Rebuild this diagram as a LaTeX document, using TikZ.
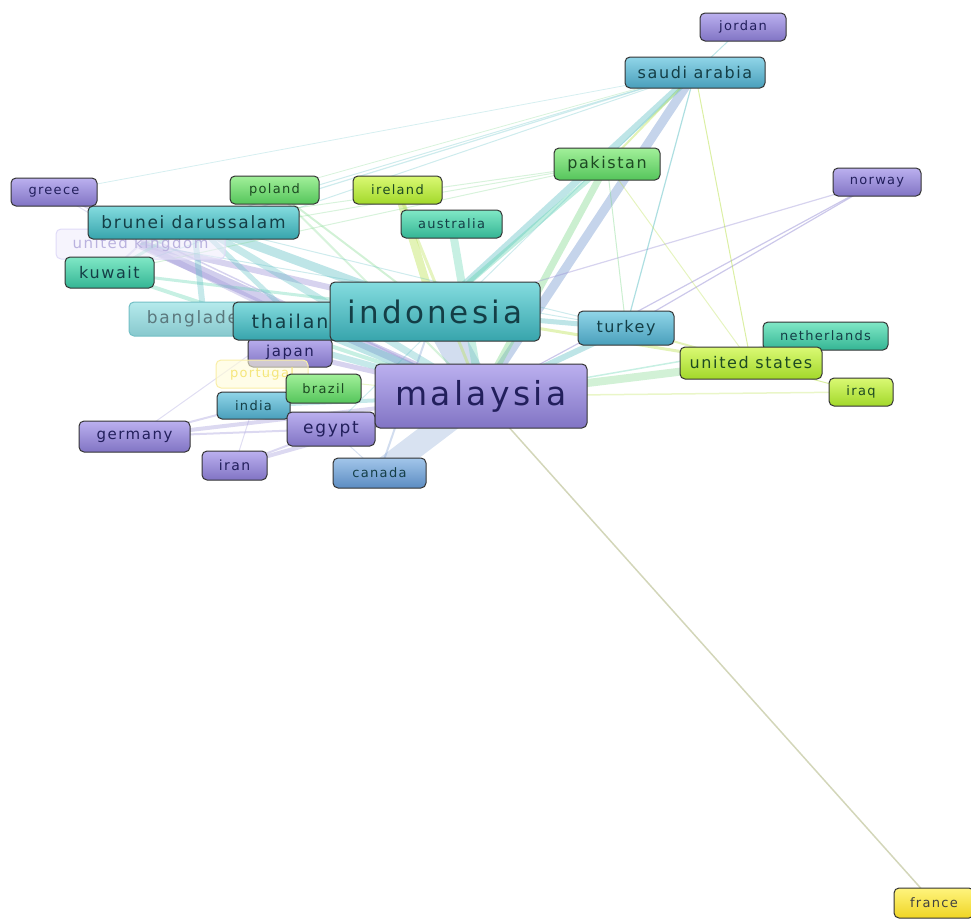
\documentclass[tikz,border=0pt]{standalone}
\usepackage{fontspec}
\setmainfont[LetterSpace=10]{DejaVu Sans}
\usetikzlibrary{backgrounds}

\newcommand{\cfs}[1]{\fontsize{#1}{#1}\selectfont}

% cluster colours (top / bottom / text)
\definecolor{purpT}{HTML}{BBB0EF}
\definecolor{purpB}{HTML}{8174C4}
\definecolor{purpTx}{HTML}{221F5C}
\definecolor{tealT}{HTML}{84DCDF}
\definecolor{tealB}{HTML}{37A4AC}
\definecolor{tealTx}{HTML}{143E46}
\definecolor{skyT}{HTML}{90D5E8}
\definecolor{skyB}{HTML}{499FBB}
\definecolor{tgrnT}{HTML}{80E8C6}
\definecolor{tgrnB}{HTML}{34B594}
\definecolor{grnT}{HTML}{A2F09A}
\definecolor{grnB}{HTML}{55C55B}
\definecolor{limeT}{HTML}{DAF974}
\definecolor{limeB}{HTML}{A2D82A}
\definecolor{bluT}{HTML}{A2C6EA}
\definecolor{bluB}{HTML}{5C8CC2}
\definecolor{yelT}{HTML}{FFF47E}
\definecolor{yelB}{HTML}{EFD524}
\definecolor{greenTx}{HTML}{1D4A22}
% link colours
\definecolor{ePurp}{HTML}{9A92D6}
\definecolor{eTeal}{HTML}{5DBFC4}
\definecolor{eBlue}{HTML}{7F9FD2}
\definecolor{eGrn}{HTML}{7DD88A}
\definecolor{eLime}{HTML}{B8E04A}
\definecolor{eTgrn}{HTML}{5FD3B0}
\definecolor{eGray}{HTML}{C8CCA8}

\begin{document}
\begin{tikzpicture}[x=1pt, y=-1pt,
    country/.style={rounded corners=5pt, draw=black!80, line width=1pt, inner sep=0pt},
    purp/.style={country, top color=purpT, bottom color=purpB, text=purpTx},
    teal/.style={country, top color=tealT, bottom color=tealB, text=tealTx},
    sky/.style={country, top color=skyT, bottom color=skyB, text=tealTx},
    tgrn/.style={country, top color=tgrnT, bottom color=tgrnB, text=tealTx},
    grn/.style={country, top color=grnT, bottom color=grnB, text=greenTx},
    lime/.style={country, top color=limeT, bottom color=limeB, text=greenTx},
    blu/.style={country, top color=bluT, bottom color=bluB, text=tealTx},
    yel/.style={country, top color=yelT, bottom color=yelB, text=black!75},
    box/.style 2 args={minimum width=#1pt, minimum height=#2pt},
    link/.style={line cap=butt}
]
\useasboundingbox (0,0) rectangle (971,918);

% outer countries
\node[purp, box={86}{28}, font=\cfs{13}] (jordan) at (743,27) {jordan};
\node[sky, box={140}{31}, font=\cfs{16}] (saudi) at (695,72.5) {saudi arabia};
\node[grn, box={106}{32}, font=\cfs{16}] (pakistan) at (607,164) {pakistan};
\node[purp, box={88}{28}, font=\cfs{13}] (norway) at (877,182) {norway};
\node[purp, box={86}{28}, font=\cfs{13}] (greece) at (54,192) {greece};
\node[grn, box={89}{28}, font=\cfs{13}] (poland) at (274.5,190) {poland};
\node[lime, box={89}{28}, font=\cfs{13}] (ireland) at (397.5,190) {ireland};
\node[tgrn, box={101}{28}, font=\cfs{13}] (australia) at (451.5,224) {australia};

% left cluster
\node[country, box={169}{30}, font=\cfs{15}, draw=purpT!45, fill=purpT!25, fill opacity=0.55,
    text opacity=1, text=purpB!55] (uk) at (140.5,244) {united kingdom};
\node[teal, box={211}{33}, font=\cfs{17}] (brunei) at (193.5,222.5) {brunei darussalam};
\node[tgrn, box={89}{31}, font=\cfs{16}] (kuwait) at (109.5,272.5) {kuwait};
\node[country, box={150}{34}, font=\cfs{17}, draw=tealB!70, top color=tealT!60, bottom color=tealB!60,
    text=tealTx!70] (bangladesh) at (204,319) {bangladesh};
\node[purp, box={84}{29}, font=\cfs{15}] (japan) at (290,352.5) {japan};
\node[teal, box={128}{38}, font=\cfs{19}] (thailand) at (297,321) {thailand};
\node[teal, box={210}{59}, font=\cfs{31}] (indonesia) at (435,311.5) {indonesia};
\node[country, box={92}{28}, font=\cfs{13}, draw=yelB!40, fill=yelT!30, fill opacity=0.6,
    text opacity=1, text=yelB!60] (portugal) at (262,374) {portugal};
\node[sky, box={73}{27}, font=\cfs{13}] (india) at (253.5,405.5) {india};
\node[grn, box={75}{29}, font=\cfs{13}] (brazil) at (323.5,388.5) {brazil};
\node[purp, box={88}{34}, font=\cfs{17}] (egypt) at (331,429) {egypt};
\node[purp, box={212}{64}, font=\cfs{33}] (malaysia) at (481,396) {malaysia};
\node[purp, box={111}{31}, font=\cfs{15}] (germany) at (134.5,436.5) {germany};
\node[purp, box={65}{29}, font=\cfs{14}] (iran) at (234.5,465.5) {iran};
\node[blu, box={93}{30}, font=\cfs{13}] (canada) at (379.5,473) {canada};

% right cluster
\node[sky, box={96}{34}, font=\cfs{16}] (turkey) at (626,328) {turkey};
\node[tgrn, box={125}{28}, font=\cfs{13}] (netherlands) at (825.5,336) {netherlands};
\node[lime, box={142}{32}, font=\cfs{16}] (usa) at (751,363) {united states};
\node[lime, box={64}{28}, font=\cfs{13}] (iraq) at (861,392) {iraq};
\node[yel, box={80}{30}, font=\cfs{13}] (france) at (934,903) {france};

% co-authorship links, under the nodes
\begin{scope}[on background layer]
\foreach \a/\b/\w/\c/\o in {
    malaysia/indonesia/30/eBlue/0.35, malaysia/canada/24/eBlue/0.3,
    malaysia/saudi/9/eBlue/0.45, indonesia/saudi/7/eTeal/0.4,
    malaysia/pakistan/7/eGrn/0.4, indonesia/pakistan/5/eTgrn/0.4,
    malaysia/usa/8/eGrn/0.35, indonesia/usa/3/eLime/0.4,
    malaysia/turkey/6/eTeal/0.4, indonesia/turkey/5/eTeal/0.4,
    malaysia/uk/10/ePurp/0.45, indonesia/uk/6/ePurp/0.4,
    indonesia/brunei/9/eTeal/0.4, malaysia/brunei/7/eTeal/0.35,
    malaysia/kuwait/4/eTgrn/0.35, indonesia/kuwait/3/eTgrn/0.35,
    malaysia/bangladesh/6/eTeal/0.35, indonesia/bangladesh/4/eTeal/0.35,
    malaysia/thailand/10/eTeal/0.4, malaysia/japan/5/ePurp/0.4,
    malaysia/egypt/6/ePurp/0.4, malaysia/india/4/eTeal/0.35,
    malaysia/iran/4/ePurp/0.35, malaysia/germany/4/ePurp/0.35,
    malaysia/greece/1.5/ePurp/0.4, malaysia/australia/8/eTgrn/0.35,
    indonesia/ireland/8/eLime/0.4, malaysia/ireland/3/eLime/0.35,
    indonesia/poland/2/eGrn/0.35, malaysia/poland/2/eGrn/0.3,
    malaysia/norway/1.2/ePurp/0.5, indonesia/norway/1.2/ePurp/0.4,
    turkey/norway/1.2/ePurp/0.5, jordan/saudi/1/eTeal/0.4,
    saudi/turkey/1.2/eTeal/0.5, saudi/usa/1/eLime/0.5,
    saudi/pakistan/2/eLime/0.4, saudi/brunei/1/eTeal/0.3,
    saudi/uk/1.2/eTeal/0.3, saudi/kuwait/1/eTeal/0.3,
    saudi/greece/0.8/eTeal/0.25, saudi/egypt/1/eTeal/0.3,
    saudi/poland/0.8/eGrn/0.3, pakistan/turkey/1/eGrn/0.4,
    pakistan/brunei/1/eGrn/0.3, pakistan/uk/1/eGrn/0.3,
    pakistan/kuwait/1/eGrn/0.3, pakistan/usa/1/eLime/0.35,
    usa/turkey/2/eLime/0.4, usa/iraq/1/eLime/0.5,
    usa/netherlands/1/eTgrn/0.4, malaysia/netherlands/1.5/eTgrn/0.35,
    malaysia/iraq/1.5/eLime/0.3, malaysia/france/1.5/eGray/0.8,
    uk/brunei/2/ePurp/0.3, uk/kuwait/2/ePurp/0.3,
    uk/thailand/6/ePurp/0.35, greece/uk/1/ePurp/0.3,
    germany/india/2/ePurp/0.35, germany/egypt/2/ePurp/0.35,
    iran/egypt/2/ePurp/0.35, iran/india/1/ePurp/0.3,
    india/egypt/1/eTeal/0.3, brunei/thailand/5/eTeal/0.35,
    brunei/kuwait/3/eTgrn/0.35, brunei/bangladesh/6/eTeal/0.35,
    portugal/malaysia/1/eLime/0.3, germany/thailand/1/ePurp/0.3,
    canada/egypt/1/eBlue/0.3, canada/indonesia/2/eBlue/0.35,
    turkey/brunei/1/eTeal/0.3, turkey/uk/1/eTeal/0.3}
    \draw[link, line width=\w pt, draw=\c, draw opacity=\o] (\a.center) -- (\b.center);
\end{scope}

\end{tikzpicture}
\end{document}
